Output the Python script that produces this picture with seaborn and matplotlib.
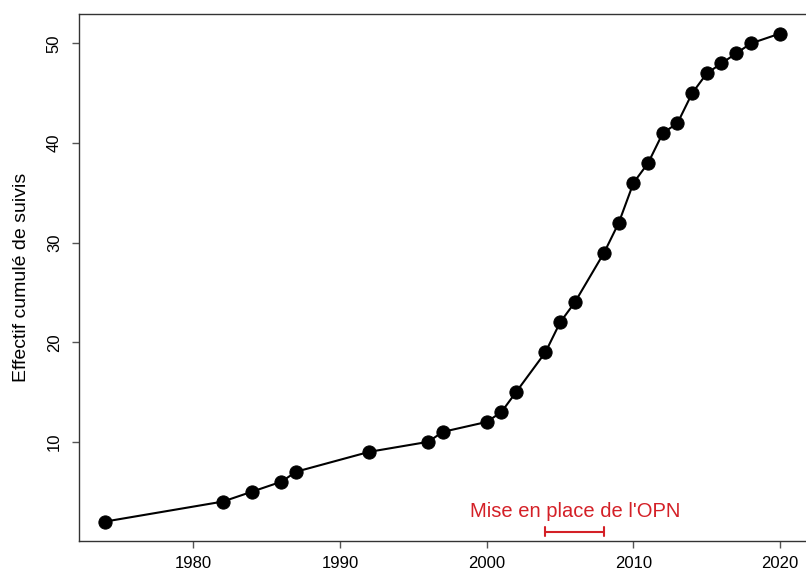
import matplotlib
matplotlib.use("Agg")
import matplotlib.pyplot as plt
import seaborn as sns
import pandas as pd

years = [1974, 1982, 1984, 1986, 1987, 1992, 1996, 1997, 2000, 2001, 2002,
         2004, 2005, 2006, 2008, 2009, 2010, 2011, 2012, 2013, 2014, 2015,
         2016, 2017, 2018, 2020]
cumul = [2, 4, 5, 6, 7, 9, 10, 11, 12, 13, 15, 19, 22, 24, 29, 32, 36, 38,
         41, 42, 45, 47, 48, 49, 50, 51]
x_ticks = [1980, 1990, 2000, 2010, 2020]
y_ticks = [10, 20, 30, 40, 50]
opn_start, opn_end = 2004, 2008
opn_label = "Mise en place de l'OPN"

sns.set_style("white")
plt.rcParams['font.family'] = ['Liberation Sans', 'DejaVu Sans']

df = pd.DataFrame({"annee": years, "effectif": cumul})

fig = plt.figure(figsize=(8.06, 5.73), dpi=100)
ax = fig.add_axes([0.0974, 0.0558, 0.904, 0.9198])

sns.lineplot(data=df, x="annee", y="effectif", ax=ax, color="black",
             linewidth=1.5, marker="o", markersize=9.5, markeredgecolor="black",
             markerfacecolor="black")

red = "#d42027"
# OPN period annotation
ax.plot([opn_start, opn_end], [0.96, 0.96], color=red, lw=1.5)
ax.plot([opn_start, opn_start], [0.5, 1.42], color=red, lw=1.5)
ax.plot([opn_end, opn_end], [0.5, 1.42], color=red, lw=1.5)
ax.text((opn_start + opn_end) / 2, 3.05, opn_label, color=red,
        ha="center", va="center", fontsize=14.5)

ax.set_xlim(1972.16, 2021.84)
ax.set_ylim(0.04, 52.96)
ax.set_xticks(x_ticks)
ax.set_yticks(y_ticks)
ax.set_xlabel("")
ax.set_ylabel("Effectif cumulé de suivis", fontsize=14, labelpad=12,
              color="black")
ax.tick_params(axis="both", direction="out", length=5, width=1,
               color="#555555", labelcolor="black", labelsize=12,
               left=True, bottom=True)
ax.tick_params(axis="x", pad=6)
ax.tick_params(axis="y", pad=7)
for lab in ax.get_yticklabels():
    lab.set_rotation(90)
    lab.set_va("center")
for s in ax.spines.values():
    s.set_color("#333333")
    s.set_linewidth(1)

fig.savefig("out.png", dpi=100)
